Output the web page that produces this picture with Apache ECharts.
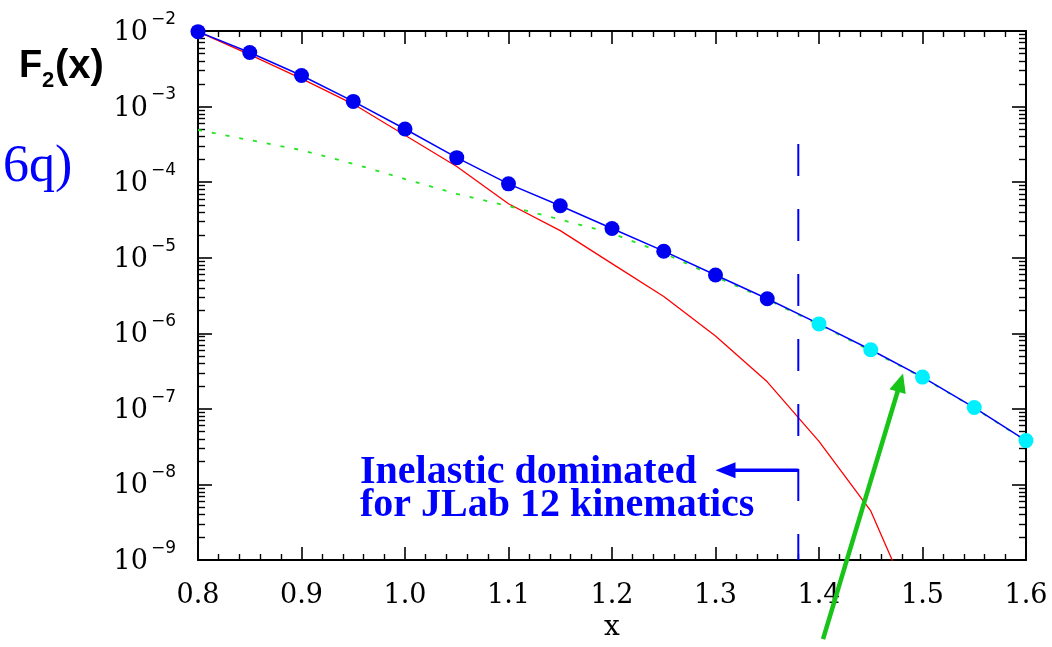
<!DOCTYPE html>
<html>
<head>
<meta charset="utf-8">
<script src="https://cdn.jsdelivr.net/npm/echarts@6/dist/echarts.min.js"></script>
<style>
html, body { margin: 0; padding: 0; background: #ffffff; }
#chart { width: 1052px; height: 647px; }
</style>
</head>
<body>
<div id="chart"></div>
<script>
// Bjorken x values at which the structure function is evaluated
const xValues = [0.80, 0.85, 0.90, 0.95, 1.00, 1.05, 1.10, 1.15, 1.20, 1.25, 1.30, 1.35, 1.40, 1.45, 1.50, 1.55, 1.60];

// Total F2(x) (blue line with dots)
const totalF2 = [9.8e-3, 5.2e-3, 2.58e-3, 1.17e-3, 5.05e-4, 2.11e-4, 9.5e-5, 4.88e-5, 2.44e-5, 1.22e-5, 5.9e-6, 2.86e-6, 1.33e-6, 6.05e-7, 2.63e-7, 1.04e-7, 3.8e-8];

// Inelastic (nucleon) contribution, red line; falls off the bottom of the plot
const inelasticF2 = [9.8e-3, 4.87e-3, 2.34e-3, 1.08e-3, 4.17e-4, 1.61e-4, 5.18e-5, 2.28e-5, 8.35e-6, 3.07e-6, 9.2e-7, 2.28e-7, 3.72e-8, 4.46e-9, 1.2e-10];

// Six-quark contribution, green dotted line
const sixQuarkF2 = [4.9e-4, 3.6e-4, 2.65e-4, 1.75e-4, 1.1e-4, 7.0e-5, 4.8e-5, 3.2e-5, 2.1e-5, 1.15e-5, 5.6e-6, 2.8e-6, 1.3e-6, 5.9e-7, 2.6e-7, 1.03e-7, 3.75e-8];

// Points beyond this x are drawn in cyan (reach of JLab 12 GeV)
const jlabReachX = 1.38;
const cutoffTopF2 = 3.2e-4;

// Horizontal arrow pointing into the inelastic-dominated region
const inelasticArrow = { fromX: 1.38, toX: 1.30, f2: 1.54e-8 };
// Green arrow pointing at the curve
const pointerArrow = { tailX: 1.4039, tailF2: 9.0e-11, tipX: 1.4812, tipF2: 2.94e-7 };

// Tick labels
const xTickLabels = ['0.8', '0.9', '1.0', '1.1', '1.2', '1.3', '1.4', '1.5', '1.6'];
const yExponents = [-9, -8, -7, -6, -5, -4, -3, -2];

const serif = '"DejaVu Serif", serif';
const black = '#000000';
const blue = '#0000ff';

const chart = echarts.init(document.getElementById('chart'), null, { renderer: 'canvas' });

function pairs(xs, ys) {
  return ys.map((y, i) => [xs[i], y]);
}

const xAxisCommon = {
  type: 'value',
  min: 0.8,
  max: 1.6,
  interval: 0.1,
  axisLine: { show: true, onZero: false, lineStyle: { color: black, width: 2 } },
  axisTick: { show: true, inside: true, length: 13, lineStyle: { color: black, width: 1.6 } },
  minorTick: { show: true, splitNumber: 5, length: 6, lineStyle: { color: black, width: 1.4 } },
  splitLine: { show: false },
  minorSplitLine: { show: false }
};

const yAxisCommon = {
  type: 'log',
  logBase: 10,
  min: 1e-9,
  max: 1e-2,
  splitNumber: 7,
  axisLine: { show: true, onZero: false, lineStyle: { color: black, width: 2 } },
  axisTick: { show: true, inside: true, length: 14, lineStyle: { color: black, width: 1.6 } },
  minorTick: { show: true, splitNumber: 9, length: 7, lineStyle: { color: black, width: 1.4 } },
  splitLine: { show: false },
  minorSplitLine: { show: false }
};

const option = {
  animation: false,
  backgroundColor: '#ffffff',
  grid: { left: 198, right: 26, top: 31, bottom: 80, containLabel: false },
  xAxis: [
    Object.assign({}, xAxisCommon, {
      position: 'bottom',
      axisLabel: {
        show: true,
        margin: 22,
        color: black,
        fontFamily: serif,
        fontSize: 27,
        formatter: (v) => {
          const idx = Math.round((v - 0.8) / 0.1);
          return xTickLabels[idx] !== undefined ? xTickLabels[idx] : '';
        }
      },
      name: 'x',
      nameLocation: 'middle',
      nameGap: 54,
      nameTextStyle: { color: black, fontFamily: serif, fontSize: 28 }
    }),
    Object.assign({}, xAxisCommon, {
      position: 'top',
      axisLabel: { show: false }
    })
  ],
  yAxis: [
    Object.assign({}, yAxisCommon, {
      position: 'left',
      axisLabel: {
        show: true,
        margin: 22,
        color: black,
        padding: [4, 0, 0, 0],
        formatter: (v) => {
          const e = Math.round(Math.log10(v));
          if (yExponents.indexOf(e) < 0) return '';
          return '{b|10}{s|\u2212' + Math.abs(e) + '}';
        },
        rich: {
          b: { fontFamily: serif, fontSize: 27, lineHeight: 44, color: black },
          s: { fontFamily: '"DejaVu Sans", sans-serif', fontSize: 17, lineHeight: 17, verticalAlign: 'top', color: black, padding: [0, 0, 0, 3] }
        }
      }
    }),
    Object.assign({}, yAxisCommon, {
      position: 'right',
      axisLabel: { show: false }
    })
  ],
  series: [
    {
      name: 'inelastic',
      type: 'line',
      data: pairs(xValues, inelasticF2),
      showSymbol: false,
      symbol: 'none',
      clip: true,
      lineStyle: { color: '#ff0000', width: 1.3 },
      z: 2
    },
    {
      name: '6q',
      type: 'line',
      data: pairs(xValues, sixQuarkF2),
      showSymbol: false,
      symbol: 'none',
      clip: true,
      lineStyle: { color: '#22e622', width: 1.8, type: [4, 10] },
      z: 3
    },
    {
      name: 'total',
      type: 'line',
      data: pairs(xValues, totalF2),
      symbol: 'circle',
      symbolSize: 15,
      showSymbol: true,
      clip: true,
      lineStyle: { color: blue, width: 1.5 },
      itemStyle: {
        color: (p) => (p.data[0] > jlabReachX ? '#00f0ff' : '#0000f0'),
        borderWidth: 0
      },
      z: 4
    }
  ]
};

chart.setOption(option);

// Annotations placed in data space through the axes' own scales
function px(x, y) {
  return chart.convertToPixel({ xAxisIndex: 0, yAxisIndex: 0 }, [x, y]);
}

function arrow(tail, tip, width, headLen, headHalf, color) {
  const dx = tip[0] - tail[0];
  const dy = tip[1] - tail[1];
  const len = Math.sqrt(dx * dx + dy * dy);
  const ux = dx / len, uy = dy / len;
  const bx = tip[0] - ux * headLen, by = tip[1] - uy * headLen;
  const nx = -uy, ny = ux;
  return [
    {
      type: 'line',
      shape: { x1: tail[0], y1: tail[1], x2: bx + ux * 2, y2: by + uy * 2 },
      style: { stroke: color, lineWidth: width },
      z: 100
    },
    {
      type: 'polygon',
      shape: { points: [tip, [bx + nx * headHalf, by + ny * headHalf], [bx - nx * headHalf, by - ny * headHalf]] },
      style: { fill: color },
      z: 100
    }
  ];
}

function label(text, x, y, font) {
  return {
    type: 'text',
    style: Object.assign({ text: text, x: x, y: y, align: 'left', verticalAlign: 'middle' }, font),
    z: 100
  };
}

const cutTop = px(jlabReachX, cutoffTopF2);
const cutBottom = px(jlabReachX, 1e-9);
const arrowFrom = px(inelasticArrow.fromX, inelasticArrow.f2);
const arrowTo = px(inelasticArrow.toX, inelasticArrow.f2);
const greenTail = px(pointerArrow.tailX, pointerArrow.tailF2);
const greenTip = px(pointerArrow.tipX, pointerArrow.tipF2);

const noteFont = { fontFamily: '"Liberation Serif", "Times New Roman", serif', fontWeight: 'bold', fontSize: 40, fill: blue };
const titleFont = { fontFamily: '"Liberation Sans", Arial, sans-serif', fontWeight: 'bold', fontSize: 38, fill: black };

const graphics = [
  {
    type: 'line',
    shape: { x1: cutTop[0], y1: cutTop[1], x2: cutBottom[0], y2: cutBottom[1] },
    style: { stroke: blue, lineWidth: 2, lineDash: [32, 33] },
    z: 90
  },
  ...arrow(arrowFrom, arrowTo, 3.5, 20, 8, blue),
  label('Inelastic dominated', 360, 472.5, noteFont),
  label('for JLab 12 kinematics', 360, 506, noteFont),
  ...arrow(greenTail, greenTip, 4.5, 19, 8.5, '#18c418'),
  // y-axis title F2(x)
  label('F', 19, 66.5, titleFont),
  label('2', 42, 80.5, Object.assign({}, titleFont, { fontSize: 22 })),
  label('(x)', 55, 66.5, Object.assign({}, titleFont, { fontSize: 40 })),
  label('6q)', 3, 167.5, { fontFamily: '"Liberation Serif", "Times New Roman", serif', fontSize: 52, fill: blue })
];

chart.setOption({ graphic: graphics });
</script>
</body>
</html>
